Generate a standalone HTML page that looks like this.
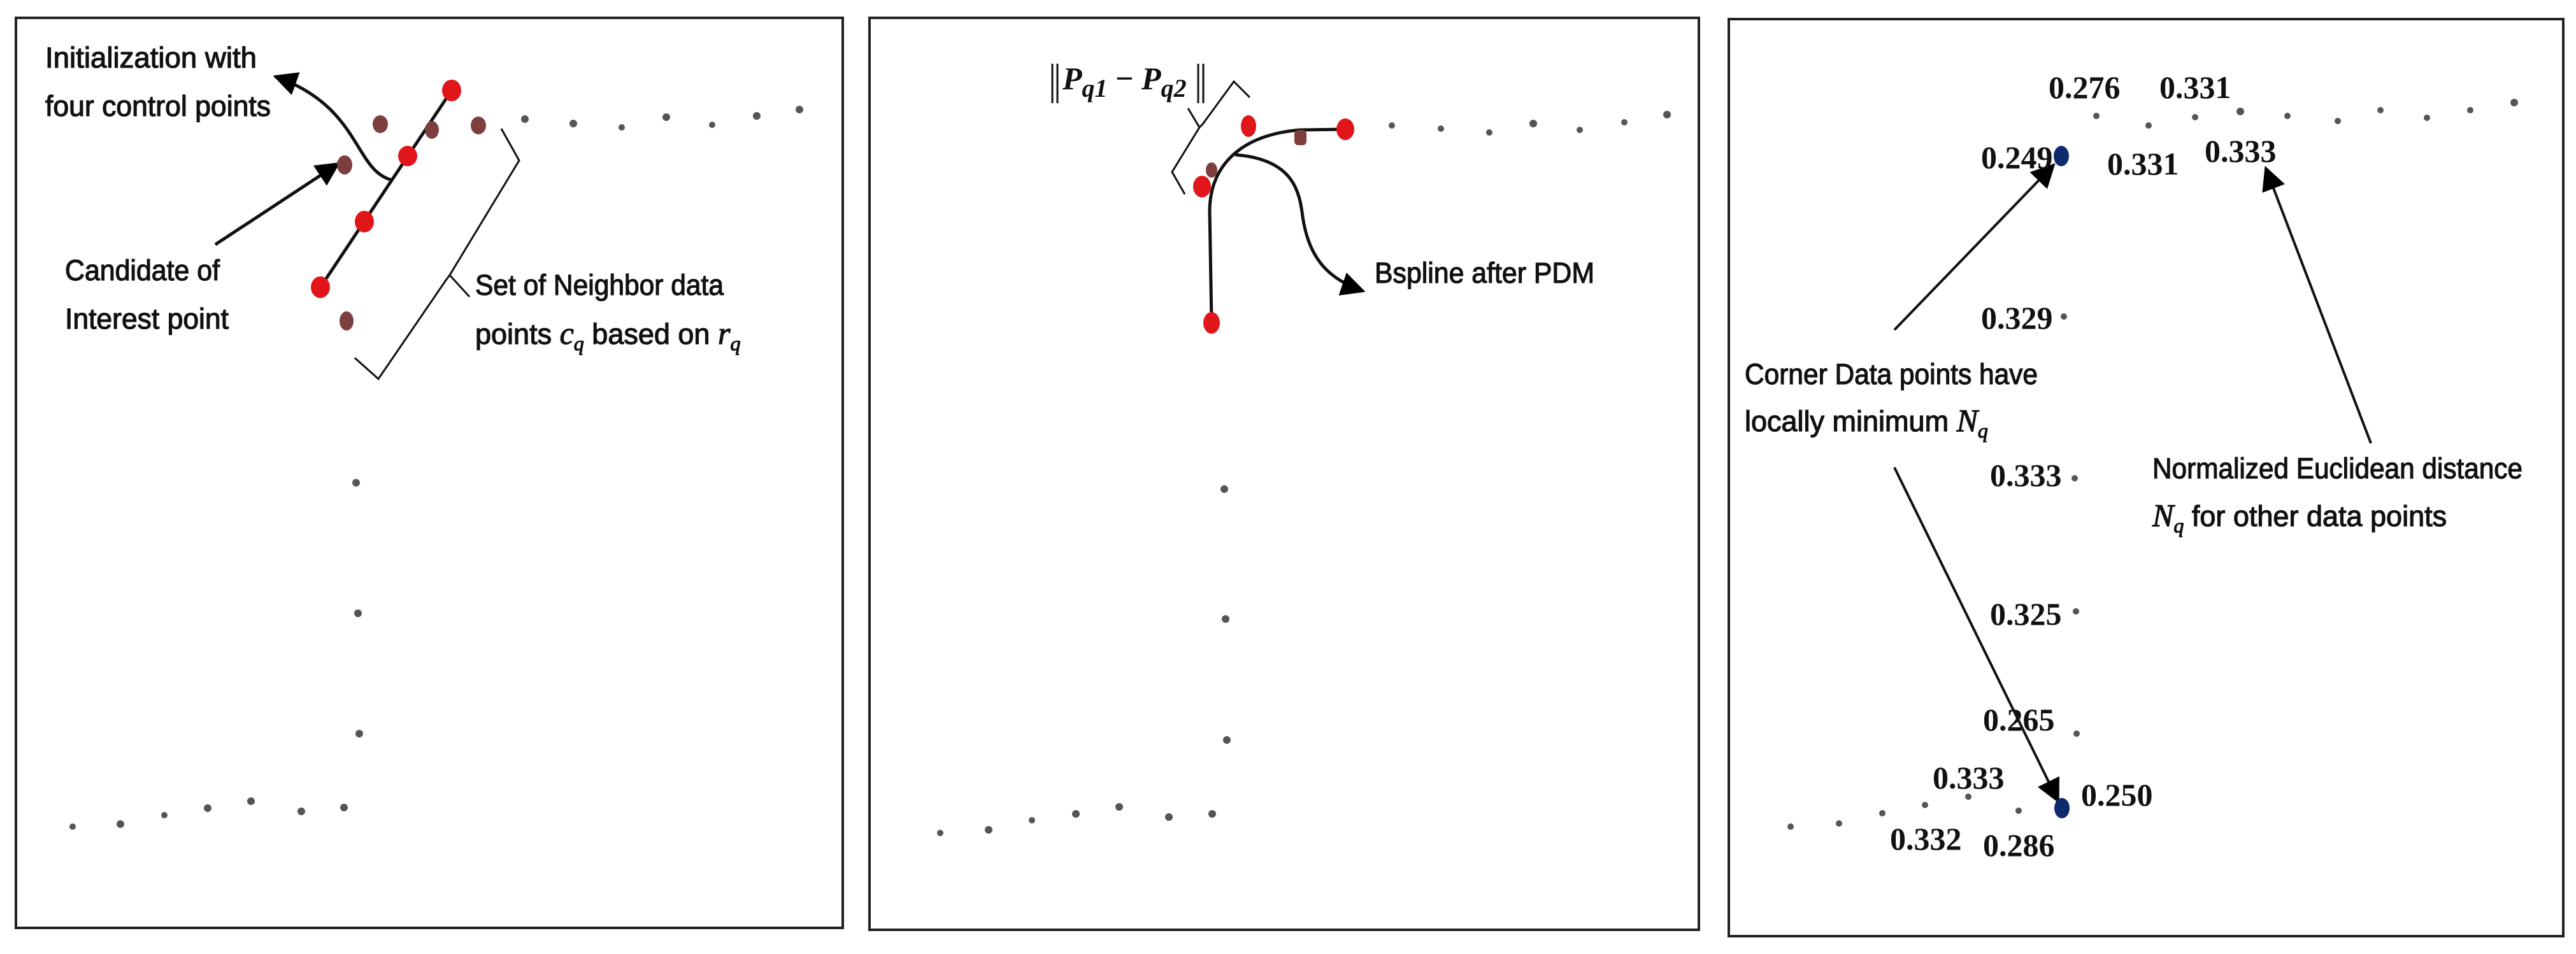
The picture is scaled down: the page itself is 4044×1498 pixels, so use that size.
<!DOCTYPE html>
<html><head><meta charset="utf-8"><style>
html,body{margin:0;padding:0;background:#fff;}
svg{display:block;}
.c{font-family:"Liberation Sans",sans-serif;font-size:45px;fill:#111;stroke:#111;stroke-width:1.2px;}
.n{font-family:"Liberation Serif",serif;font-size:50px;font-weight:bold;fill:#111;}
.i{font-family:"Liberation Serif",serif;font-style:italic;}
</style></head><body>
<svg width="4044" height="1498" viewBox="0 0 4044 1498" xmlns="http://www.w3.org/2000/svg">
<defs>
<marker id="a" viewBox="0 0 10 10" refX="9" refY="5" markerWidth="38" markerHeight="38" markerUnits="userSpaceOnUse" orient="auto"><path d="M0,0 L10,5 L0,10 z" fill="#000"/></marker>
</defs>
<g fill="none" stroke="#222" stroke-width="4">
<rect x="25" y="28" width="1298" height="1429"/>
<rect x="1365" y="28" width="1302" height="1432"/>
<rect x="2714" y="30" width="1310" height="1440"/>
</g>

<!-- Panel 1 -->
<g fill="none" stroke="#111">
<line x1="503" y1="451" x2="709" y2="142" stroke-width="5"/>
<path d="M616,283 C555,268 568,168 432,120" stroke-width="5" marker-end="url(#a)"/>
<line x1="338" y1="384" x2="531" y2="257" stroke-width="5" marker-end="url(#a)"/>
<path d="M787,202 L815,252 L706,432 L737,466 M706,432 L700,440 L594,595 L557,562" stroke-width="3"/>
</g>
<g fill="#e0161a"><ellipse cx="709" cy="142" rx="15" ry="17"/><ellipse cx="640" cy="245" rx="15" ry="16"/><ellipse cx="572" cy="348" rx="15" ry="17"/><ellipse cx="503" cy="451" rx="15" ry="17"/></g>
<g fill="#7d3e3e"><ellipse cx="597" cy="195" rx="12" ry="14"/><ellipse cx="678" cy="204" rx="11" ry="14"/><ellipse cx="751" cy="197" rx="12" ry="14"/><ellipse cx="541" cy="259" rx="12" ry="15"/><ellipse cx="544" cy="504" rx="11" ry="15"/></g>
<g fill="#555"><circle cx="824" cy="187" r="6"/><circle cx="900" cy="194" r="6"/><circle cx="976" cy="200" r="5"/><circle cx="1046" cy="184" r="6"/><circle cx="1118" cy="196" r="5"/><circle cx="1188" cy="182" r="6"/><circle cx="1255" cy="172" r="6"/>
<circle cx="559" cy="758" r="6"/><circle cx="562" cy="963" r="6"/><circle cx="564" cy="1152" r="6"/>
<circle cx="114" cy="1298" r="5"/><circle cx="189" cy="1294" r="6"/><circle cx="258" cy="1280" r="5"/><circle cx="326" cy="1269" r="6"/><circle cx="394" cy="1258" r="6"/><circle cx="473" cy="1274" r="6"/><circle cx="540" cy="1268" r="6"/></g>
<text class="c" x="71" y="106" textLength="332" lengthAdjust="spacingAndGlyphs">Initialization with</text>
<text class="c" x="71" y="182" textLength="354" lengthAdjust="spacingAndGlyphs">four control points</text>
<text class="c" x="102" y="440" textLength="243" lengthAdjust="spacingAndGlyphs">Candidate of</text>
<text class="c" x="102" y="516" textLength="257" lengthAdjust="spacingAndGlyphs">Interest point</text>
<text class="c" x="746" y="463" textLength="390" lengthAdjust="spacingAndGlyphs">Set of Neighbor data</text>
<text class="c" x="746" y="540">points <tspan class="i" font-size="50">c</tspan><tspan class="i" font-size="32" dy="10">q</tspan><tspan dy="-10"> based on </tspan><tspan class="i" font-size="50">r</tspan><tspan class="i" font-size="32" dy="10">q</tspan></text>

<!-- Panel 2 -->
<g fill="none" stroke="#111">
<path d="M1902,505 L1899,330 C1900,262 1945,212 2041,204 L2111,203" stroke-width="5"/>
<path d="M1939,243 C2030,250 2040,300 2045,340 C2055,410 2090,440 2140,457" stroke-width="5" marker-end="url(#a)"/>
<path d="M1860,305 L1840,270 L1883,200 L1865,170 M1883,200 L1888,195 L1937,128 L1962,153" stroke-width="3"/>
<path d="M1652,100 V162 M1660,100 V162 M1881,100 V162 M1889,100 V162" stroke-width="3"/>
</g>
<g fill="#e0161a"><ellipse cx="1960" cy="198" rx="12" ry="17"/><ellipse cx="2112" cy="203" rx="14" ry="17"/><ellipse cx="1887" cy="293" rx="14" ry="17"/><ellipse cx="1902" cy="507" rx="13" ry="17"/></g>
<g fill="#7d3e3e"><rect x="2032" y="204" width="19" height="24" rx="6"/><ellipse cx="1902" cy="267" rx="9" ry="12"/></g>
<g fill="#555"><circle cx="2185" cy="197" r="5"/><circle cx="2262" cy="202" r="5"/><circle cx="2338" cy="208" r="5"/><circle cx="2407" cy="194" r="6"/><circle cx="2480" cy="204" r="5"/><circle cx="2550" cy="192" r="5"/><circle cx="2617" cy="180" r="6"/>
<circle cx="1922" cy="768" r="6"/><circle cx="1924" cy="972" r="6"/><circle cx="1926" cy="1162" r="6"/>
<circle cx="1476" cy="1308" r="5"/><circle cx="1552" cy="1303" r="6"/><circle cx="1620" cy="1288" r="5"/><circle cx="1689" cy="1278" r="6"/><circle cx="1757" cy="1267" r="6"/><circle cx="1835" cy="1283" r="6"/><circle cx="1903" cy="1278" r="6"/></g>
<text class="n" x="1668" y="140" font-style="italic" font-size="60">P<tspan font-size="40" dy="12">q1</tspan><tspan dy="-12" font-style="normal"> − </tspan>P<tspan font-size="40" dy="12">q2</tspan></text>
<text class="c" x="2158" y="444" textLength="345" lengthAdjust="spacingAndGlyphs">Bspline after PDM</text>

<!-- Panel 3 -->
<g fill="none" stroke="#111" stroke-width="4">
<line x1="2974" y1="518" x2="3224" y2="259" marker-end="url(#a)"/>
<line x1="3722" y1="696" x2="3557" y2="264" marker-end="url(#a)"/>
<line x1="2974" y1="734" x2="3231" y2="1258" marker-end="url(#a)"/>
</g>
<g fill="#0e2a6e"><ellipse cx="3236" cy="245" rx="12" ry="16"/><ellipse cx="3237" cy="1269" rx="12" ry="16"/></g>
<g fill="#555"><circle cx="3291" cy="182" r="5"/><circle cx="3373" cy="197" r="5"/><circle cx="3446" cy="184" r="5"/><circle cx="3517" cy="175" r="6"/><circle cx="3591" cy="182" r="5"/><circle cx="3670" cy="190" r="5"/><circle cx="3737" cy="173" r="5"/><circle cx="3810" cy="185" r="5"/><circle cx="3878" cy="173" r="5"/><circle cx="3947" cy="161" r="6"/>
<circle cx="3240" cy="497" r="5"/><circle cx="3257" cy="751" r="5"/><circle cx="3259" cy="960" r="5"/><circle cx="3260" cy="1152" r="5"/>
<circle cx="2811" cy="1298" r="5"/><circle cx="2887" cy="1293" r="5"/><circle cx="2955" cy="1277" r="5"/><circle cx="3022" cy="1264" r="5"/><circle cx="3090" cy="1251" r="5"/><circle cx="3169" cy="1273" r="5"/></g>
<g class="n">
<text x="3216" y="154">0.276</text>
<text x="3390" y="154">0.331</text>
<text x="3110" y="264">0.249</text>
<text x="3308" y="274">0.331</text>
<text x="3461" y="254">0.333</text>
<text x="3110" y="516">0.329</text>
<text x="3124" y="763">0.333</text>
<text x="3124" y="981">0.325</text>
<text x="3113" y="1147">0.265</text>
<text x="3034" y="1238">0.333</text>
<text x="3267" y="1265">0.250</text>
<text x="2967" y="1334">0.332</text>
<text x="3113" y="1344">0.286</text>
</g>
<text class="c" x="2739" y="603" textLength="460" lengthAdjust="spacingAndGlyphs">Corner Data points have</text>
<text class="c" x="2739" y="677">locally minimum <tspan class="i" font-size="50">N</tspan><tspan class="i" font-size="32" dy="10">q</tspan></text>
<text class="c" x="3379" y="751" textLength="581" lengthAdjust="spacingAndGlyphs">Normalized Euclidean distance</text>
<text class="c" x="3379" y="826"><tspan class="i" font-size="50">N</tspan><tspan class="i" font-size="32" dy="10">q</tspan><tspan dy="-10"> for other data points</tspan></text>
</svg>
</body></html>
